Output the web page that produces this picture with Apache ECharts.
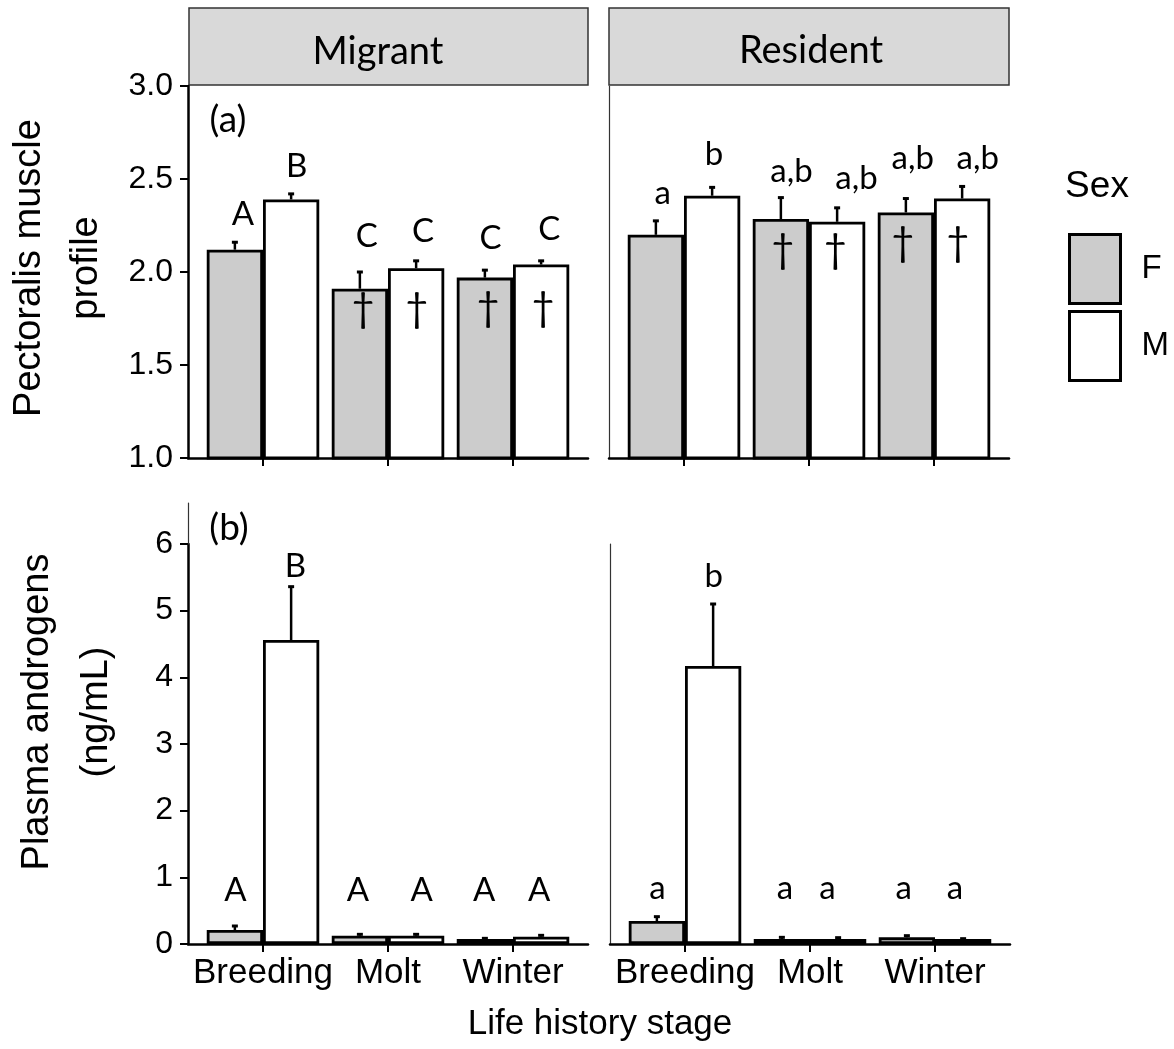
<!DOCTYPE html>
<html>
<head>
<meta charset="utf-8">
<title>Pectoralis muscle profile and plasma androgens</title>
<script src="https://cdn.jsdelivr.net/npm/echarts@6/dist/echarts.min.js"></script>
<style>
  html, body { margin: 0; padding: 0; background: #fff; }
  #chart { width: 1174px; height: 1049px; }
</style>
</head>
<body>
<div id="chart"></div>
<script>
// life history stages, placed at x = 1, 2, 3
var stages = ['Breeding', 'Molt', 'Winter'];
var stagePos = [1, 2, 3];

// (a) pectoralis muscle profile: mean and SE
var muscleMigF = [2.12, 1.91, 1.97];
var muscleMigFse = [0.04, 0.09, 0.04];
var muscleMigM = [2.39, 2.02, 2.04];
var muscleMigMse = [0.03, 0.04, 0.02];
var muscleResF = [2.20, 2.285, 2.32];
var muscleResFse = [0.075, 0.115, 0.075];
var muscleResM = [2.41, 2.27, 2.395];
var muscleResMse = [0.045, 0.075, 0.065];

// (b) plasma androgens (ng/mL): mean and SE
var androMigF = [0.21, 0.125, 0.075];
var androMigFse = [0.06, 0.02, 0.01];
var androMigM = [4.56, 0.125, 0.11];
var androMigMse = [0.80, 0.02, 0.02];
var androResF = [0.345, 0.075, 0.10];
var androResFse = [0.065, 0.025, 0.025];
var androResM = [4.17, 0.075, 0.075];
var androResMse = [0.93, 0.02, 0.005];

// significance letters [x, y, text]
var lettersMigA = [[0.84, 2.31, 'A'], [1.27, 2.57, 'B'], [1.83, 2.19, 'C'], [2.28, 2.22, 'C'], [2.82, 2.18, 'C'], [3.29, 2.23, 'C']];
var lettersResA = [[0.83, 2.425, 'a'], [1.24, 2.63, 'b'], [1.86, 2.54, 'a,b'], [2.38, 2.505, 'a,b'], [2.83, 2.613, 'a,b'], [3.35, 2.613, 'a,b']];
var lettersMigB = [[0.78, 0.81, 'A'], [1.26, 5.66, 'B'], [1.76, 0.81, 'A'], [2.27, 0.81, 'A'], [2.77, 0.81, 'A'], [3.21, 0.81, 'A']];
var lettersResB = [[0.78, 0.835, 'a'], [1.23, 5.52, 'b'], [1.80, 0.835, 'a'], [2.14, 0.835, 'a'], [2.75, 0.835, 'a'], [3.16, 0.835, 'a']];

// daggers inside the bars [x, y]
var daggersMig = [[1.80, 1.80], [2.23, 1.80], [2.80, 1.805], [3.24, 1.805]];
var daggersRes = [[1.79, 2.12], [2.21, 2.12], [2.75, 2.155], [3.19, 2.155]];

var colF = '#cccccc', colM = '#ffffff';
var calFont = 'Lato', arFont = 'Liberation Sans';

var chart = echarts.init(document.getElementById('chart'));

function barSeries(idx, name, values, color) {
    return {
        type: 'bar', name: name, xAxisIndex: idx, yAxisIndex: idx,
        data: stagePos.map(function (x, i) { return [x, values[i]]; }),
        barWidth: '45%', barGap: '0%', silent: true, z: 2,
        itemStyle: { color: color, borderColor: '#000', borderWidth: 2.8 }
    };
}

// error bar goes up from the mean only
function errSeries(idx, means, ses, off) {
    return {
        type: 'custom', xAxisIndex: idx, yAxisIndex: idx, silent: true, z: 1,
        data: stagePos.map(function (x, i) { return [x + off, means[i], means[i] + ses[i]]; }),
        encode: { x: 0, y: [1, 2] },
        renderItem: function (params, api) {
            var lo = api.coord([api.value(0), api.value(1)]);
            var hi = api.coord([api.value(0), api.value(2)]);
            return { type: 'group', children: [
                { type: 'line', shape: { x1: lo[0], y1: lo[1], x2: hi[0], y2: hi[1] }, style: { stroke: '#000', lineWidth: 2.5 } },
                { type: 'line', shape: { x1: hi[0] - 3, y1: hi[1], x2: hi[0] + 3, y2: hi[1] }, style: { stroke: '#000', lineWidth: 3 } }
            ]};
        }
    };
}

function textSeries(idx, items, font) {
    return {
        type: 'custom', xAxisIndex: idx, yAxisIndex: idx, silent: true, z: 5,
        data: items.map(function (d) { return [d[0], d[1]]; }),
        renderItem: function (params, api) {
            var p = api.coord([api.value(0), api.value(1)]);
            var t = items[params.dataIndex][2] || '\u2020';
            return { type: 'text', x: p[0], y: p[1],
                style: { text: t, font: font, fill: '#000', align: 'center', verticalAlign: 'middle' } };
        }
    };
}

function xAxis(idx, showLabels) {
    return {
        type: 'value', gridIndex: idx, min: 0.4, max: 3.6, z: 10,
        axisLine: { show: true, onZero: false, lineStyle: { color: '#000', width: 2.5 } },
        axisTick: { show: true, customValues: stagePos, length: 8, lineStyle: { color: '#000', width: 2 } },
        axisLabel: { show: showLabels, customValues: stagePos, margin: 12, fontSize: 35, fontFamily: arFont, color: '#000',
            formatter: function (v) { return stages[Math.round(v) - 1]; } },
        splitLine: { show: false }
    };
}

function yAxisMain(idx, min, max, step, digits) {
    return {
        type: 'value', gridIndex: idx, min: min, max: max, interval: step, z: 10,
        axisLine: { show: true, onZero: false, lineStyle: { color: '#000', width: 2.5 } },
        axisTick: { show: true, length: 8, lineStyle: { color: '#000', width: 2 } },
        axisLabel: { margin: 15, fontSize: 32, fontFamily: arFont, color: '#000',
            formatter: function (v) { return v.toFixed(digits); } },
        splitLine: { show: false }
    };
}

function yAxisThin(idx, min, max) {
    return {
        type: 'value', gridIndex: idx, min: min, max: max, z: 10,
        axisLine: { show: true, onZero: false, lineStyle: { color: '#333', width: 1.2 } },
        axisTick: { show: false }, axisLabel: { show: false }, splitLine: { show: false }
    };
}

var option = {
    backgroundColor: '#fff',
    animation: false,
    grid: [
        { left: 188, top: 86, width: 400, height: 372 },
        { left: 609, top: 86, width: 400, height: 372 },
        { left: 188, top: 544, width: 400, height: 400 },
        { left: 610, top: 544, width: 400, height: 400 },
        { left: 188, top: 503, width: 400, height: 41 }
    ],
    xAxis: [xAxis(0, false), xAxis(1, false), xAxis(2, true), xAxis(3, true),
        { type: 'value', gridIndex: 4, min: 0, max: 1, show: false }],
    yAxis: [yAxisMain(0, 1, 3, 0.5, 1), yAxisThin(1, 1, 3), yAxisMain(2, 0, 6, 1, 0), yAxisThin(3, 0, 6), yAxisThin(4, 0, 1)],
    legend: {
        data: ['F', 'M'], orient: 'vertical', left: 1068, top: 233, padding: 0,
        itemWidth: 51, itemHeight: 69, itemGap: 5, icon: 'rect', selectedMode: false,
        itemStyle: { borderColor: '#000', borderWidth: 3 },
        textStyle: { fontSize: 33, fontFamily: arFont, color: '#000', padding: [0, 0, 0, 16] }
    },
    graphic: [
        { type: 'rect', shape: { x: 189, y: 8, width: 399, height: 77 }, style: { fill: '#d9d9d9', stroke: '#333', lineWidth: 1.5 } },
        { type: 'rect', shape: { x: 609, y: 8, width: 400, height: 77 }, style: { fill: '#d9d9d9', stroke: '#333', lineWidth: 1.5 } },
        { type: 'text', x: 378, y: 52, style: { text: 'Migrant', font: '38px ' + calFont, fill: '#000', align: 'center', verticalAlign: 'middle' } },
        { type: 'text', x: 811, y: 51, style: { text: 'Resident', font: '38px ' + calFont, fill: '#000', align: 'center', verticalAlign: 'middle' } },
        { type: 'text', x: 228, y: 120, style: { text: '(a)', font: '37px ' + calFont, fill: '#000', align: 'center', verticalAlign: 'middle' } },
        { type: 'text', x: 229, y: 528, style: { text: '(b)', font: '37px ' + calFont, fill: '#000', align: 'center', verticalAlign: 'middle' } },
        { type: 'text', x: 58, y: 268, rotation: Math.PI / 2,
            style: { text: 'Pectoralis muscle\nprofile', font: '38px ' + arFont, lineHeight: 57, fill: '#000', align: 'center', verticalAlign: 'middle' } },
        { type: 'text', x: 67, y: 712, rotation: Math.PI / 2,
            style: { text: 'Plasma androgens\n(ng/mL)', font: '38px ' + arFont, lineHeight: 59, fill: '#000', align: 'center', verticalAlign: 'middle' } },
        { type: 'text', x: 600, y: 1024, style: { text: 'Life history stage', font: '35px ' + arFont, fill: '#000', align: 'center', verticalAlign: 'middle' } },
        { type: 'text', x: 1097, y: 187, style: { text: 'Sex', font: '37px ' + arFont, fill: '#000', align: 'center', verticalAlign: 'middle' } }
    ],
    series: [
        barSeries(0, 'F', muscleMigF, colF), barSeries(0, 'M', muscleMigM, colM),
        barSeries(1, 'F', muscleResF, colF), barSeries(1, 'M', muscleResM, colM),
        barSeries(2, 'F', androMigF, colF), barSeries(2, 'M', androMigM, colM),
        barSeries(3, 'F', androResF, colF), barSeries(3, 'M', androResM, colM),
        errSeries(0, muscleMigF, muscleMigFse, -0.225), errSeries(0, muscleMigM, muscleMigMse, 0.225),
        errSeries(1, muscleResF, muscleResFse, -0.225), errSeries(1, muscleResM, muscleResMse, 0.225),
        errSeries(2, androMigF, androMigFse, -0.225), errSeries(2, androMigM, androMigMse, 0.225),
        errSeries(3, androResF, androResFse, -0.225), errSeries(3, androResM, androResMse, 0.225),
        textSeries(0, lettersMigA, '33px ' + calFont), textSeries(1, lettersResA, '33px ' + calFont),
        textSeries(2, lettersMigB, '33px ' + calFont), textSeries(3, lettersResB, '33px ' + calFont),
        textSeries(0, daggersMig, '40px ' + calFont), textSeries(1, daggersRes, '40px ' + calFont)
    ]
};
chart.setOption(option);
</script>
</body>
</html>
